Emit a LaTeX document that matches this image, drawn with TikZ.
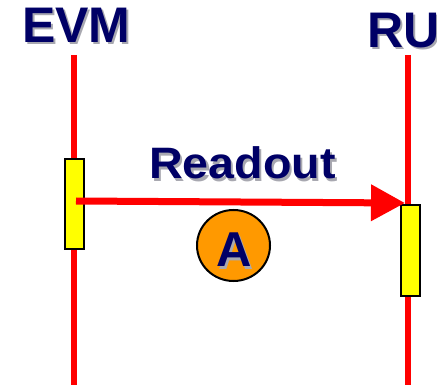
\documentclass[tikz,border=0pt]{standalone}
\usepackage{fontspec}
\setmainfont{Liberation Sans}
\usetikzlibrary{arrows.meta,shapes.geometric}
\definecolor{navy}{HTML}{000066}
\definecolor{shadowgray}{HTML}{A8A8B0}
\definecolor{boxyellow}{HTML}{FFFF00}
\definecolor{aorange}{HTML}{FF9900}
\newcommand{\shadowtext}[1]{\makebox[0pt][l]{\hspace{2pt}\raisebox{-2pt}{\textcolor{shadowgray}{#1}}}#1}
\tikzset{
  x=1pt, y=-1pt,
  lifeline/.style={draw=red, line width=6pt},
  actbox/.style={draw=black, line width=2pt, fill=boxyellow, minimum width=19pt, inner sep=0pt},
  title/.style={font=\bfseries\fontsize{50}{50}\selectfont, text=navy, inner sep=0pt, anchor=base west},
  msg/.style={draw=red, line width=7pt, -{Triangle[length=34pt,width=35pt]}},
  bigtext/.style={font=\bfseries\fontsize{44}{44}\selectfont, text=navy, inner sep=0pt},
}
\begin{document}
\begin{tikzpicture}
\useasboundingbox (0,0) rectangle (437,385);
% lifelines
\coordinate (evmtop) at (74,55);
\coordinate (evmbot) at (74,385);
\coordinate (rutop) at (408,55);
\coordinate (rubot) at (408,385);
\draw[lifeline] (evmtop) -- (evmbot);
\draw[lifeline] (rutop) -- (rubot);
% titles
\node[title] (evm) at (22,43) {\shadowtext{EVM}};
\node[title] (ru) at (367,48) {\shadowtext{RU}};
% activation boxes
\node[actbox, minimum height=90pt] (evmbox) at (74.5,204.5) {};
\node[actbox, minimum height=90pt] (rubox) at (410.5,250.5) {};
% message
\coordinate (msgstart) at (76,201);
\coordinate (msgend) at (405,203);
\draw[msg] (msgstart) -- (msgend);
\node[bigtext, anchor=base west, xscale=1.06] (rd) at (149,179) {\shadowtext{Readout}};
% A circle
\node[draw=black, fill=aorange, line width=2pt, ellipse, minimum width=73pt, minimum height=71pt, inner sep=0pt] (acirc) at (233.5,245.5) {};
\node[font=\bfseries\fontsize{49}{49}\selectfont, text=navy, inner sep=0pt, anchor=base] (a) at (234,267) {\shadowtext{A}};
\end{tikzpicture}
\end{document}
